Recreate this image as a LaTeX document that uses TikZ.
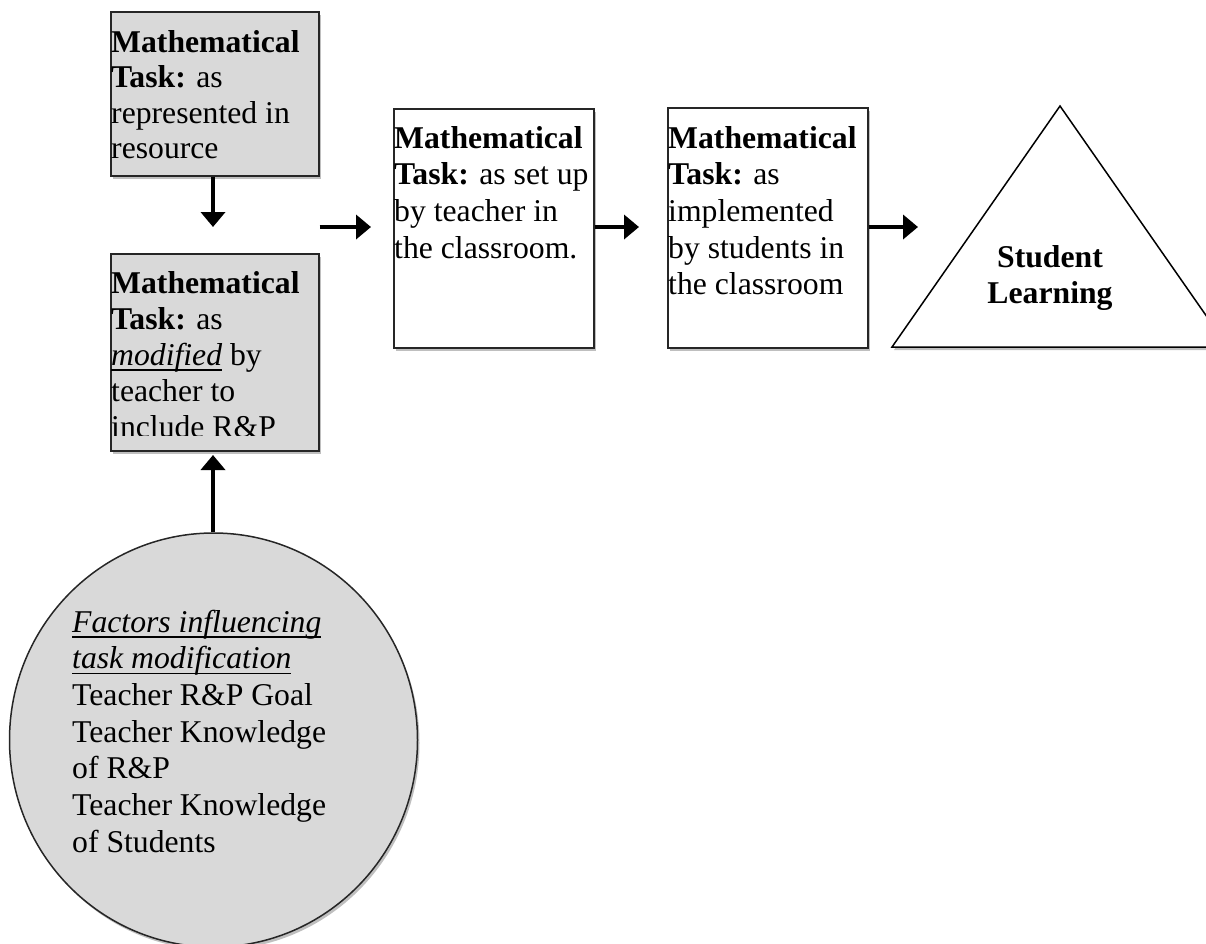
\documentclass[tikz,border=0pt]{standalone}
\usepackage{fontspec}
\setmainfont{Liberation Serif}
\usetikzlibrary{arrows.meta,shapes.geometric,shadows}
\definecolor{boxgray}{HTML}{D9D9D9}
% underline drawn at a fixed depth below the baseline
\newcommand{\lowline}[1]{\setbox0\hbox{#1}\leavevmode\rlap{\rule[-5.5pt]{\wd0}{1.6pt}}\box0\relax}
\tikzset{
  softshadow/.style={drop shadow={shadow xshift=2pt, shadow yshift=-3pt, opacity=0.25, fill=black}},
  panel/.style={draw=black!85, line width=1.5pt, anchor=north west, inner sep=0pt, softshadow},
  grey panel/.style={panel, fill=boxgray},
  white panel/.style={panel, fill=white},
  flow/.style={line width=4.5pt, -{Triangle[width=24pt,length=15pt]}},
  txt/.style={anchor=base west, inner sep=0pt, font=\fontsize{31.7}{36.7}\selectfont},
}
\begin{document}
\begin{tikzpicture}[x=1pt, y=-1pt]
\useasboundingbox (0,0) rectangle (1206,943);
\clip (0,0) rectangle (1206,943);

% task as found in the resource
\node (b1) [grey panel, minimum width=208pt, minimum height=164pt] at (110,11) {};
\node (b1t) [txt, font=\fontsize{31.7}{35.5}\selectfont] at (111,52)
  {\parbox[t]{210pt}{\raggedright\textbf{Mathematical}\\\textbf{Task:} as\\represented in\\resource}};

% task after the teacher's modification (last line cut off by the frame)
\node (b2) [grey panel, minimum width=208pt, minimum height=197pt] at (110,253) {};
\begin{scope}
  \clip (110,253) rectangle (318,435);
  \node (b2t) [txt, font=\fontsize{31.7}{36.1}\selectfont] at (111,293)
    {\parbox[t]{210pt}{\raggedright\textbf{Mathematical}\\\textbf{Task:} as\\\lowline{\textit{modified}} by\\teacher to\\include R\&P}};
\end{scope}

% task as set up in class
\node (b3) [white panel, minimum width=200pt, minimum height=239pt] at (393,108) {};
\node (b3t) [txt] at (394,148)
  {\parbox[t]{210pt}{\raggedright\textbf{Mathematical}\\\textbf{Task:} as set up\\by teacher in\\the classroom.}};

% task as implemented by students
\node (b4) [white panel, minimum width=200pt, minimum height=240pt] at (667,107) {};
\node (b4t) [txt] at (668,148)
  {\parbox[t]{210pt}{\raggedright\textbf{Mathematical}\\\textbf{Task:} as\\implemented\\by students in\\the classroom}};

% outcome
\draw[line width=1.5pt, fill=white, softshadow] (892,347) coordinate (triL) -- (1060,106) coordinate (apex) -- (1228,347) coordinate (triR) -- cycle;
\node (learn) [anchor=base, inner sep=0pt, font=\fontsize{31.7}{36}\selectfont] at (1050,267)
  {\parbox[t]{200pt}{\centering\bfseries Student\\Learning}};

% influencing factors
\node (fac) [ellipse, draw=black!85, line width=1.5pt, fill=boxgray, minimum width=408pt, minimum height=414pt, inner sep=0pt, softshadow] at (213.5,740) {};
\node (fact) [txt] at (72,632)
  {\parbox[t]{330pt}{\raggedright\lowline{\textit{Factors influencing}}\\\lowline{\textit{task modification}}\\Teacher R\&P Goal\\Teacher Knowledge\\of R\&P\\Teacher Knowledge\\of Students}};

% arrow tips
\coordinate (t0) at (213,227);
\coordinate (t1) at (371,227);
\coordinate (t2) at (639,227);
\coordinate (t3) at (918,227);
\coordinate (t4) at (213,455);

\draw[flow] (t0 |- b1.south) -- (t0);
\draw[flow] (b2.north east |- t1) -- (t1);
\draw[flow] (b3.east |- t2) -- (t2);
\draw[flow] (b4.east |- t3) -- (t3);
\draw[flow] (t4 |- fac.north) -- (t4);
\end{tikzpicture}
\end{document}
